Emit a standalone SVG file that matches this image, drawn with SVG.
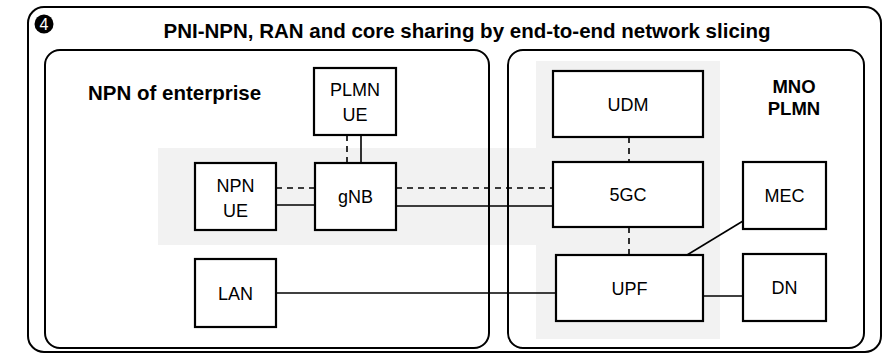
<svg xmlns="http://www.w3.org/2000/svg" width="887" height="354" viewBox="0 0 887 354">
<style>
.frame{fill:none;stroke:#000;stroke-width:2}
.box{fill:#fff;stroke:#000;stroke-width:2.2}
.shade{fill:#f2f2f2;stroke:none}
.lbl{font-family:"Liberation Sans",Arial,sans-serif;font-size:18px;fill:#000;text-anchor:middle}
.bold{font-family:"Liberation Sans",Arial,sans-serif;font-weight:bold;fill:#000;font-size:20.5px}
.solid{stroke:#000;stroke-width:1.6;fill:none}
.dash{stroke:#000;stroke-width:1.6;fill:none;stroke-dasharray:6 5}
</style>
<rect x="0" y="0" width="887" height="354" fill="#fff"/>
<g id="shading">
<rect class="shade" x="158" y="148" width="380" height="97"/>
<rect class="shade" x="536" y="61" width="184" height="278"/>
</g>
<g id="frames">
<rect class="frame" x="28" y="7" width="853" height="345" rx="16"/>
<rect class="frame" x="45" y="50" width="444" height="298" rx="15"/>
<rect class="frame" x="508" y="50" width="356" height="298" rx="15"/>
</g>
<g id="title">
<circle cx="44" cy="24" r="9.5" fill="#000"/>
<text x="44" y="30" font-family="Liberation Sans,Arial,sans-serif" font-size="16" fill="#fff" text-anchor="middle">4</text>
<text class="bold" x="467" y="38" text-anchor="middle">PNI-NPN, RAN and core sharing by end-to-end network slicing</text>
<text class="bold" x="88" y="100">NPN of enterprise</text>
<text class="bold" x="794" y="93" text-anchor="middle" style="font-size:18.5px">MNO</text>
<text class="bold" x="794" y="115" text-anchor="middle" style="font-size:18.5px">PLMN</text>
</g>
<g id="connectors">
<line class="dash" x1="347" y1="135" x2="347" y2="163"/>
<line class="solid" x1="361" y1="135" x2="361" y2="163"/>
<line class="dash" x1="276" y1="188" x2="315" y2="188"/>
<line class="solid" x1="276" y1="205" x2="315" y2="205"/>
<line class="dash" x1="396" y1="188" x2="553" y2="188"/>
<line class="solid" x1="396" y1="206" x2="553" y2="206"/>
<line class="dash" x1="629" y1="137" x2="629" y2="162"/>
<line class="dash" x1="629" y1="227" x2="629" y2="255"/>
<line class="solid" x1="743" y1="221" x2="687" y2="255"/>
<line class="solid" x1="703" y1="296" x2="743" y2="296"/>
<line class="solid" x1="276" y1="293" x2="556" y2="293"/>
</g>
<g id="plmn-ue"><rect class="box" x="314" y="68" width="82" height="67"/><text class="lbl" x="355" y="96">PLMN</text><text class="lbl" x="355" y="121">UE</text></g>
<g id="npn-ue"><rect class="box" x="195" y="163" width="81" height="67"/><text class="lbl" x="235.5" y="192">NPN</text><text class="lbl" x="235.5" y="217">UE</text></g>
<g id="gnb"><rect class="box" x="315" y="163" width="81" height="67"/><text class="lbl" x="355.5" y="203">gNB</text></g>
<g id="lan"><rect class="box" x="195" y="259" width="81" height="68"/><text class="lbl" x="235.5" y="300">LAN</text></g>
<g id="udm"><rect class="box" x="553" y="71" width="150" height="66"/><text class="lbl" x="628" y="111">UDM</text></g>
<g id="fivegc"><rect class="box" x="553" y="162" width="150" height="65"/><text class="lbl" x="628" y="201">5GC</text></g>
<g id="upf"><rect class="box" x="556" y="255" width="147" height="66"/><text class="lbl" x="629.5" y="295">UPF</text></g>
<g id="mec"><rect class="box" x="743" y="162" width="83" height="67"/><text class="lbl" x="784.5" y="202">MEC</text></g>
<g id="dn"><rect class="box" x="743" y="254" width="83" height="67"/><text class="lbl" x="784.5" y="294">DN</text></g>
</svg>
